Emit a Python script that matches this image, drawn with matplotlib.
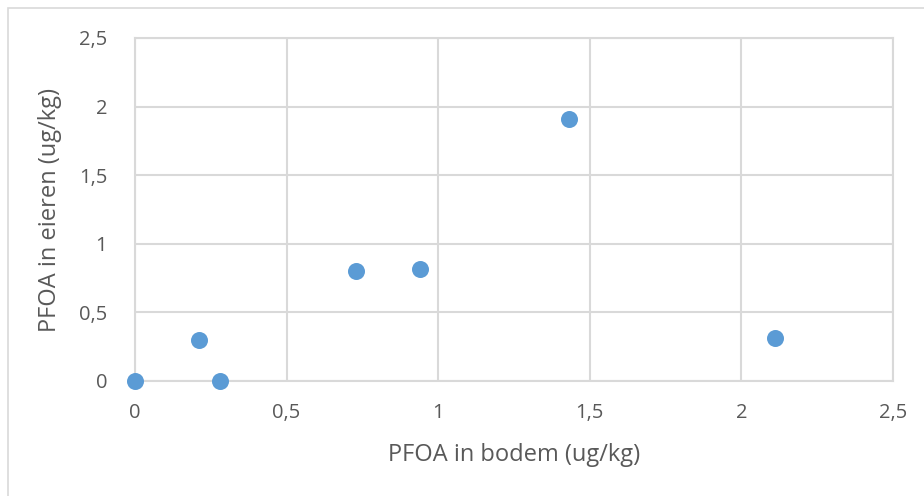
import matplotlib
matplotlib.use("Agg")
import matplotlib.pyplot as plt
from matplotlib.patches import Rectangle

bodem = [0.0, 0.21, 0.28, 0.73, 0.94, 1.43, 2.11]
eieren = [0.0, 0.30, 0.0, 0.80, 0.815, 1.91, 0.315]
ticks = [0, 0.5, 1, 1.5, 2, 2.5]
tick_labels = ["0", "0,5", "1", "1,5", "2", "2,5"]

plt.rcParams['font.family'] = ['Open Sans', 'DejaVu Sans']
fig = plt.figure(figsize=(9.24, 4.96), dpi=100)
fig.patches.append(Rectangle((8/924, -0.05), 1, 1.05 - 8/496, transform=fig.transFigure,
                             fill=False, edgecolor='#D9D9D9', linewidth=1.2))
ax = fig.add_axes([135/924, 1 - 381/496, (893 - 135)/924, (381 - 38)/496])
grid_c = '#D9D9D9'
ax.set_xlim(0, 2.5)
ax.set_ylim(0, 2.5)
ax.set_xticks(ticks)
ax.set_xticklabels(tick_labels)
ax.set_yticks(ticks)
ax.set_yticklabels(tick_labels)
ax.grid(True, color=grid_c, linewidth=1.5)
ax.set_axisbelow(True)
for s in ax.spines.values():
    s.set_color(grid_c)
    s.set_linewidth(1.5)
ax.tick_params(length=0, colors='#595959', labelsize=14.5, pad=16)
ax.tick_params(axis='y', pad=20)
ax.scatter(bodem, eieren, s=150, color='#5B9BD5', zorder=3, clip_on=False, linewidths=0)
ax.set_xlabel("PFOA in bodem (ug/kg)", fontsize=17, color='#595959', labelpad=14)
ax.set_ylabel("PFOA in eieren (ug/kg)", fontsize=17, color='#595959', labelpad=12)
fig.savefig("out.png", dpi=100)
